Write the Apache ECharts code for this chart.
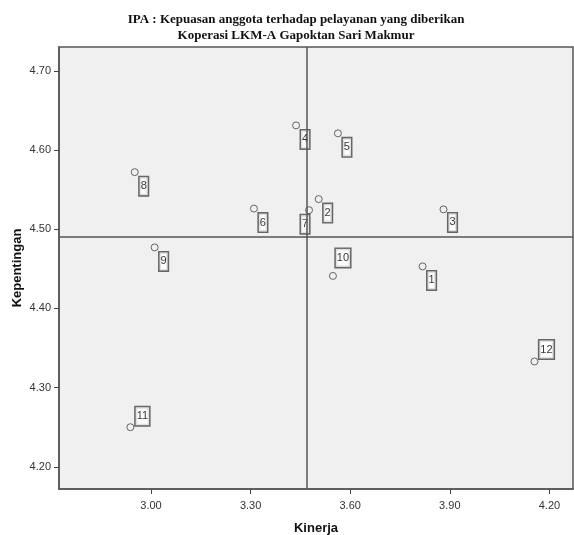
<!DOCTYPE html>
<html>
<head>
<meta charset="utf-8">
<script src="https://cdn.jsdelivr.net/npm/echarts@6/dist/echarts.min.js"></script>
<style>
  html, body { margin: 0; padding: 0; background: #fff; }
  #chart { width: 574px; height: 535px; }
</style>
</head>
<body>
<div id="chart"></div>
<script>
// nomor atribut dan nilai rata-rata (kinerja, kepentingan)
var ids = ['1', '2', '3', '4', '5', '6', '7', '8', '9', '10', '11', '12'];
var kinerja = [3.818, 3.505, 3.881, 3.437, 3.563, 3.310, 3.476, 2.951, 3.011, 3.548, 2.938, 4.155];
var kepentingan = [4.453, 4.538, 4.525, 4.631, 4.621, 4.526, 4.524, 4.572, 4.477, 4.441, 4.250, 4.333];

var xTicks = [3.00, 3.30, 3.60, 3.90, 4.20];
var yTicks = [4.20, 4.30, 4.40, 4.50, 4.60, 4.70];

// geser label kotak (px), default kanan bawah
var defaultOffset = [9, 14];
var labelOffsets = { '3': [9, 13], '7': [-4, 14], '10': [10, -18], '11': [12, -11], '12': [12, -12] };

function mean(arr) {
    var s = 0;
    for (var i = 0; i < arr.length; i++) s += arr[i];
    return s / arr.length;
}

var points = [];
for (var i = 0; i < ids.length; i++) {
    points.push({
        name: ids[i],
        value: [kinerja[i], kepentingan[i]],
        label: { offset: labelOffsets[ids[i]] || defaultOffset }
    });
}

var myChart = echarts.init(document.getElementById('chart'));

var option = {
    animation: false,
    title: {
        text: 'IPA : Kepuasan anggota terhadap pelayanan yang diberikan\nKoperasi LKM-A Gapoktan Sari Makmur',
        left: 291,
        textAlign: 'center',
        top: 7,
        textStyle: {
            fontFamily: 'Liberation Serif',
            fontSize: 13,
            fontWeight: 'bold',
            color: '#111',
            lineHeight: 16
        }
    },
    grid: {
        left: 59,
        right: 1,
        top: 47,
        bottom: 46,
        outerBoundsMode: 'none',
        show: true,
        backgroundColor: '#f0f0f0',
        borderColor: '#555',
        borderWidth: 1.5
    },
    xAxis: {
        type: 'value',
        min: 2.723,
        max: 4.271,
        name: 'Kinerja',
        nameLocation: 'middle',
        nameGap: 33,
        nameMoveOverlap: false,
        nameTextStyle: { fontFamily: 'Liberation Sans', fontSize: 13, fontWeight: 'bold', color: '#111' },
        splitLine: { show: false },
        axisLine: { lineStyle: { color: '#555', width: 1.5 } },
        axisTick: { show: true, length: 5, customValues: xTicks, lineStyle: { color: '#444' } },
        axisLabel: {
            customValues: xTicks,
            margin: 11,
            fontFamily: 'Liberation Sans',
            fontSize: 11,
            color: '#333',
            formatter: function (v) { return v.toFixed(2); }
        }
    },
    yAxis: {
        type: 'value',
        min: 4.172,
        max: 4.730,
        name: 'Kepentingan',
        nameLocation: 'middle',
        nameGap: 35,
        nameMoveOverlap: false,
        nameTextStyle: { fontFamily: 'Liberation Sans', fontSize: 13, fontWeight: 'bold', color: '#111' },
        splitLine: { show: false },
        axisLine: { show: true, lineStyle: { color: '#555', width: 1.5 } },
        axisTick: { show: true, length: 5, customValues: yTicks, lineStyle: { color: '#444' } },
        axisLabel: {
            customValues: yTicks,
            margin: 8,
            fontFamily: 'Liberation Sans',
            fontSize: 11,
            color: '#333',
            formatter: function (v) { return v.toFixed(2); }
        }
    },
    series: [
        {
            type: 'scatter',
            symbol: 'circle',
            symbolSize: 7,
            itemStyle: { color: 'rgba(0,0,0,0)', borderColor: '#444', borderWidth: 1 },
            label: {
                show: true,
                position: 'inside',
                formatter: '{b}',
                fontFamily: 'Liberation Sans',
                fontSize: 11,
                color: '#000',
                backgroundColor: '#fff',
                borderColor: '#444',
                borderWidth: 1.5,
                padding: [4, 1, 3, 1]
            },
            data: points,
            markLine: {
                silent: true,
                symbol: ['none', 'none'],
                label: { show: false },
                lineStyle: { color: '#555', width: 1.5, type: 'solid' },
                data: [
                    { xAxis: mean(kinerja) },
                    { yAxis: mean(kepentingan) }
                ]
            }
        }
    ]
};

myChart.setOption(option);
</script>
</body>
</html>
